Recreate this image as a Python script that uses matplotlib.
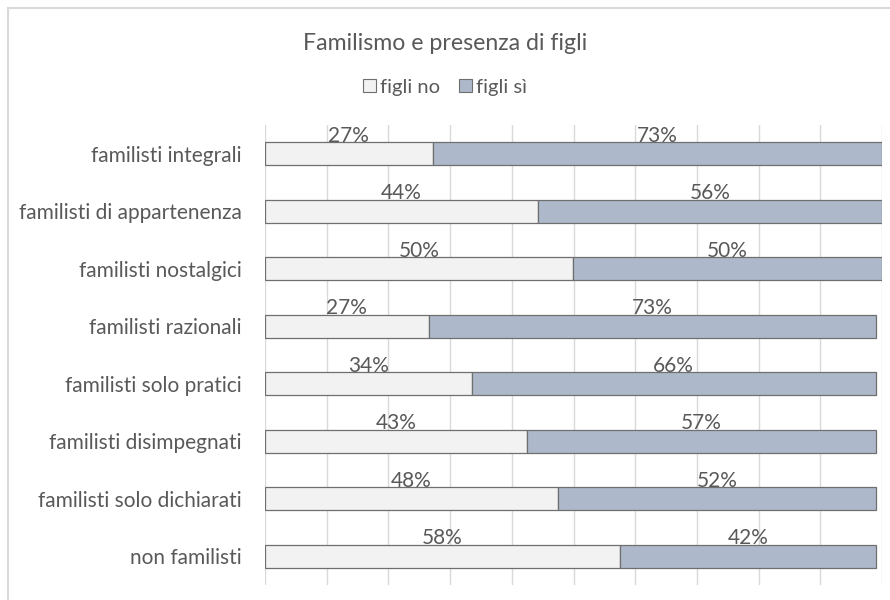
import math
import matplotlib
matplotlib.use("Agg")
import matplotlib.pyplot as plt
from matplotlib.patches import Patch, Rectangle

categories = ["familisti integrali", "familisti di appartenenza", "familisti nostalgici",
              "familisti razionali", "familisti solo pratici", "familisti disimpegnati",
              "familisti solo dichiarati", "non familisti"]
figli_no = [27.2, 44.2, 49.9, 26.5, 33.5, 42.5, 47.5, 57.5]
figli_si = [72.8, 55.8, 50.1, 72.5, 65.5, 56.5, 51.5, 41.5]
series_names = ["figli no", "figli sì"]
title = "Familismo e presenza di figli"

plt.rcParams['font.family'] = ['Lato', 'DejaVu Sans']
txt = "#595959"
col_no = "#f2f2f2"
col_si = "#adb9ca"
edge = "#6f6f6f"

fig = plt.figure(figsize=(8.9, 6), dpi=100)
ax = fig.add_axes([265 / 890, 1 - 585 / 600, (882 - 265) / 890, (585 - 125) / 600])

y = list(range(len(categories)))
h = 0.4
ax.barh(y, figli_no, height=h, color=col_no, edgecolor=edge, linewidth=0.9, zorder=3)
ax.barh(y, figli_si, left=figli_no, height=h, color=col_si, edgecolor=edge, linewidth=0.9, zorder=3)

for i in y:
    a, b = figli_no[i], figli_si[i]
    ax.text(a / 2, i - h / 2 - 0.01, "%d%%" % math.floor(a + 0.5), ha="center", va="baseline",
            fontsize=15, color=txt, zorder=4)
    ax.text(a + b / 2, i - h / 2 - 0.01, "%d%%" % math.floor(b + 0.5), ha="center", va="baseline",
            fontsize=15, color=txt, zorder=4)

ax.set_xlim(0, 100)
ax.set_ylim(len(categories) - 0.5, -0.5)
ax.set_xticks(range(0, 101, 10))
ax.set_xticklabels([])
ax.tick_params(axis="x", length=0)
ax.tick_params(axis="y", length=0, pad=17, labelsize=15, labelcolor=txt)
ax.set_yticks(y)
ax.set_yticklabels(categories)
ax.grid(axis="x", color="#d9d9d9", linewidth=1, zorder=0)
for s in ax.spines.values():
    s.set_visible(False)

fig.text(0.5, 1 - 43 / 600, title, ha="center", va="center", fontsize=16.7, color=txt)
handles = [Patch(facecolor=col_no, edgecolor=edge, linewidth=0.8),
           Patch(facecolor=col_si, edgecolor=edge, linewidth=0.8)]
fig.legend(handles, series_names, loc="center", bbox_to_anchor=(0.5, 1 - 87 / 600), ncol=2,
           frameon=False, fontsize=14.5, labelcolor=txt, handlelength=0.65, handleheight=0.65,
           handletextpad=0.2, columnspacing=0.9)

fig.patches.append(Rectangle((8 / 890, -0.1), 1.2, 1.1 - 8 / 600, transform=fig.transFigure,
                             fill=False, edgecolor="#d9d9d9", linewidth=1.5))

fig.savefig("out.png", dpi=100)
